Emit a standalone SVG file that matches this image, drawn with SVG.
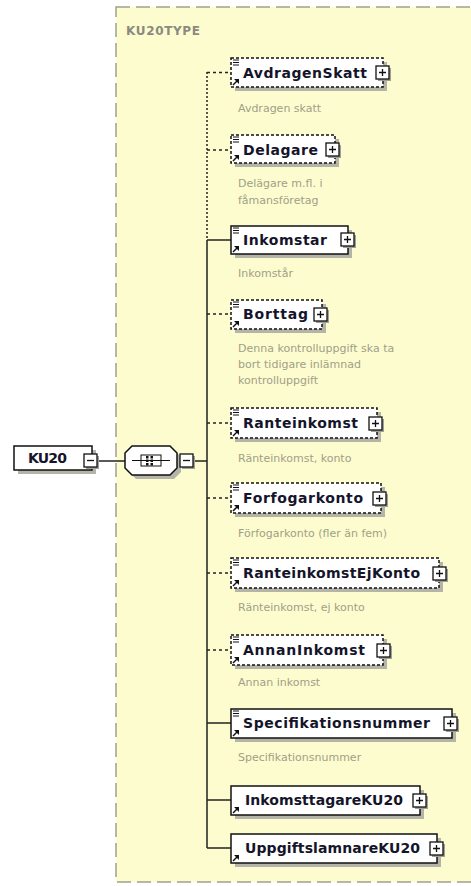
<svg xmlns="http://www.w3.org/2000/svg" width="471" height="886" viewBox="0 0 471 886">
<style>
.bg{fill:#ffffff}
.type{fill:#fdfcce;stroke:#a0a090;stroke-width:1.5;stroke-dasharray:14,6}
.tname{font-family:"DejaVu Sans",sans-serif;font-weight:bold;font-size:12px;fill:#8a8a80}
.shadow{fill:#b4b4a8}
.box{fill:#ffffff;stroke:#111;stroke-width:1.5}
.opt{stroke-dasharray:3,2}
.lbl{font-family:"DejaVu Sans",sans-serif;font-weight:bold;font-size:14px;fill:#14142a}
.desc{font-family:"DejaVu Sans",sans-serif;font-size:11px;fill:#a0a088}
.pm{fill:#ffffff;stroke:#111;stroke-width:1.3}
.pmshadow{fill:#a0a098}
.sign{stroke:#111;stroke-width:1.3;fill:none}
.line{stroke:#222;stroke-width:1.5;fill:none}
.dash{stroke-dasharray:3,3}
.dot{stroke-dasharray:2,2}
.ico{stroke:#111;stroke-width:1;fill:none}
</style>
<defs>
<g id="plus"><rect class="pmshadow" x="2" y="2" width="13" height="13"/><rect class="pm" x="0" y="0" width="13" height="13"/><path class="sign" d="M3,6.5H10M6.5,3V10"/></g>
<g id="minus"><rect class="pmshadow" x="2" y="2" width="13" height="13"/><rect class="pm" x="0" y="0" width="13" height="13"/><path class="sign" d="M3,6.5H10"/></g>
<g id="eq"><path class="ico" d="M0,0H6M0,2.5H6M0,5H6"/></g>
<g id="ref"><path d="M0,6L4,2" stroke="#111" stroke-width="1.5"/><path d="M1,0L6,0L6,5Z" fill="#111"/></g>
</defs>
<rect class="bg" x="0" y="0" width="471" height="886"/>
<g id="KU20TYPE">
<rect class="type" x="116" y="7" width="370" height="875"/>
<text class="tname" x="126" y="35" textLength="74">KU20TYPE</text>
</g>
<g id="connectors">
<line class="line" x1="97" y1="461" x2="125" y2="461"/>
<line class="line" x1="193" y1="461" x2="207" y2="461"/>
<line class="line dot" x1="207" y1="72" x2="207" y2="240"/>
<line class="line" x1="207" y1="240" x2="207" y2="848"/>
<line class="line dash" x1="207" y1="72.5" x2="231" y2="72.5"/>
<line class="line dash" x1="207" y1="150" x2="231" y2="150"/>
<line class="line" x1="207" y1="240" x2="231" y2="240"/>
<line class="line dash" x1="207" y1="314" x2="231" y2="314"/>
<line class="line dash" x1="207" y1="423" x2="231" y2="423"/>
<line class="line dash" x1="207" y1="498" x2="231" y2="498"/>
<line class="line dash" x1="207" y1="573" x2="231" y2="573"/>
<line class="line dash" x1="207" y1="650" x2="231" y2="650"/>
<line class="line" x1="207" y1="723" x2="231" y2="723"/>
<line class="line" x1="207" y1="800" x2="231" y2="800"/>
<line class="line" x1="207" y1="848" x2="231" y2="848"/>
</g>
<g id="KU20">
<rect class="shadow" x="18" y="450" width="78" height="24"/>
<rect class="box" x="14" y="446" width="78" height="24"/>
<text class="lbl" x="28" y="463" font-size="13" textLength="39">KU20</text>
<use href="#minus" x="84" y="454"/>
</g>
<g id="sequence">
<polygon class="shadow" points="136,450 174,450 181,457 181,472 174,479 136,479 129,472 129,457"/>
<polygon class="box" points="132,446 170,446 177,453 177,468 170,475 132,475 125,468 125,453"/>
<line class="ico" x1="132" y1="460.5" x2="170" y2="460.5"/>
<rect class="ico" x="141" y="455" width="20" height="11" fill="#fff"/>
<rect x="146" y="456" width="2.5" height="2.5" fill="#111"/>
<rect x="146" y="459.5" width="2.5" height="2.5" fill="#111"/>
<rect x="146" y="463" width="2.5" height="2.5" fill="#111"/>
<rect x="150.5" y="456" width="2.5" height="2.5" fill="#111"/>
<rect x="150.5" y="459.5" width="2.5" height="2.5" fill="#111"/>
<rect x="150.5" y="463" width="2.5" height="2.5" fill="#111"/>
<line class="ico" x1="141" y1="460.5" x2="161" y2="460.5"/>
<use href="#minus" x="180" y="454"/>
</g>
<g id="AvdragenSkatt">
<rect class="shadow" x="235" y="62" width="152" height="29"/>
<rect class="box opt" x="231" y="58" width="152" height="29"/>
<use href="#eq" x="233" y="60"/><use href="#ref" x="233" y="79"/>
<text class="lbl" x="243" y="78" textLength="124">AvdragenSkatt</text>
<use href="#plus" x="376" y="66"/>
<text class="desc" x="238" y="112">Avdragen skatt</text>
</g>
<g id="Delagare">
<rect class="shadow" x="235" y="139" width="104" height="28"/>
<rect class="box opt" x="231" y="135" width="104" height="28"/>
<use href="#eq" x="233" y="137"/><use href="#ref" x="233" y="155"/>
<text class="lbl" x="243" y="155" textLength="75">Delagare</text>
<use href="#plus" x="326" y="143"/>
<text class="desc" x="238" y="187">Delägare m.fl. i</text>
<text class="desc" x="238" y="204">fåmansföretag</text>
</g>
<g id="Inkomstar">
<rect class="shadow" x="235" y="230" width="117" height="28"/>
<rect class="box" x="231" y="226" width="117" height="28"/>
<use href="#eq" x="233" y="228"/><use href="#ref" x="233" y="246"/>
<text class="lbl" x="243" y="245" textLength="84">Inkomstar</text>
<use href="#plus" x="341" y="233"/>
<text class="desc" x="238" y="277">Inkomstår</text>
</g>
<g id="Borttag">
<rect class="shadow" x="235" y="304" width="91" height="29"/>
<rect class="box opt" x="231" y="300" width="91" height="29"/>
<use href="#eq" x="233" y="302"/><use href="#ref" x="233" y="321"/>
<text class="lbl" x="243" y="319" textLength="65">Borttag</text>
<use href="#plus" x="314" y="308"/>
<text class="desc" x="238" y="352">Denna kontrolluppgift ska ta</text>
<text class="desc" x="238" y="368">bort tidigare inlämnad</text>
<text class="desc" x="238" y="384">kontrolluppgift</text>
</g>
<g id="Ranteinkomst">
<rect class="shadow" x="235" y="412" width="146" height="30"/>
<rect class="box opt" x="231" y="408" width="146" height="30"/>
<use href="#eq" x="233" y="410"/><use href="#ref" x="233" y="430"/>
<text class="lbl" x="243" y="428" textLength="115">Ranteinkomst</text>
<use href="#plus" x="369" y="417"/>
<text class="desc" x="238" y="462">Ränteinkomst, konto</text>
</g>
<g id="Forfogarkonto">
<rect class="shadow" x="235" y="487" width="150" height="30"/>
<rect class="box opt" x="231" y="483" width="150" height="30"/>
<use href="#eq" x="233" y="485"/><use href="#ref" x="233" y="505"/>
<text class="lbl" x="243" y="503" textLength="120">Forfogarkonto</text>
<use href="#plus" x="373" y="492"/>
<text class="desc" x="238" y="537">Förfogarkonto (fler än fem)</text>
</g>
<g id="RanteinkomstEjKonto">
<rect class="shadow" x="235" y="562" width="208" height="30"/>
<rect class="box opt" x="231" y="558" width="208" height="30"/>
<use href="#eq" x="233" y="560"/><use href="#ref" x="233" y="580"/>
<text class="lbl" x="243" y="578" textLength="177">RanteinkomstEjKonto</text>
<use href="#plus" x="433" y="567"/>
<text class="desc" x="238" y="611">Ränteinkomst, ej konto</text>
</g>
<g id="AnnanInkomst">
<rect class="shadow" x="235" y="639" width="152" height="30"/>
<rect class="box opt" x="231" y="635" width="152" height="30"/>
<use href="#eq" x="233" y="637"/><use href="#ref" x="233" y="657"/>
<text class="lbl" x="243" y="655" textLength="122">AnnanInkomst</text>
<use href="#plus" x="377" y="644"/>
<text class="desc" x="238" y="686">Annan inkomst</text>
</g>
<g id="Specifikationsnummer">
<rect class="shadow" x="235" y="713" width="221" height="29"/>
<rect class="box" x="231" y="709" width="221" height="29"/>
<use href="#eq" x="233" y="711"/><use href="#ref" x="233" y="730"/>
<text class="lbl" x="243" y="728" textLength="187">Specifikationsnummer</text>
<use href="#plus" x="444" y="717"/>
<text class="desc" x="238" y="761">Specifikationsnummer</text>
</g>
<g id="InkomsttagareKU20">
<rect class="shadow" x="235" y="790" width="189" height="29"/>
<rect class="box" x="231" y="786" width="189" height="29"/>
<use href="#ref" x="233" y="807"/>
<text class="lbl" x="245" y="805" textLength="158">InkomsttagareKU20</text>
<use href="#plus" x="413" y="794"/>
</g>
<g id="UppgiftslamnareKU20">
<rect class="shadow" x="235" y="838" width="206" height="29"/>
<rect class="box" x="231" y="834" width="206" height="29"/>
<use href="#ref" x="233" y="855"/>
<text class="lbl" x="245" y="853" textLength="175">UppgiftslamnareKU20</text>
<use href="#plus" x="430" y="842"/>
</g>
</svg>
